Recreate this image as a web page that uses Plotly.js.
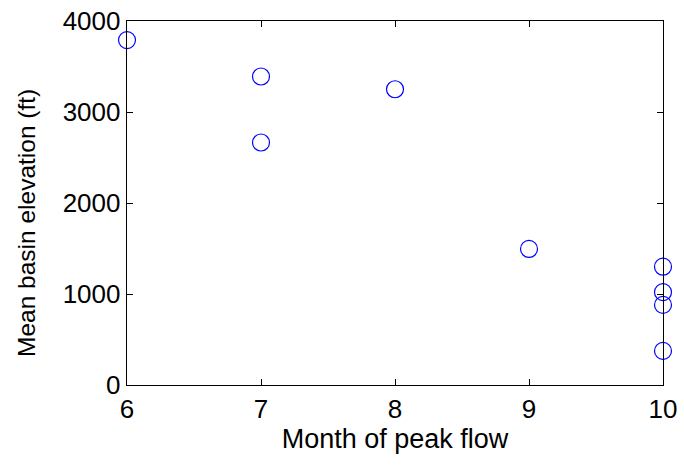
<!DOCTYPE html>
<html><head><meta charset="utf-8">
<script src="https://cdn.plot.ly/plotly-3.0.1.min.js"></script>
<style>html,body{margin:0;padding:0;background:#fff}</style>
</head><body>
<div id="chart" style="width:684px;height:466px"></div>
<script>
const months = [6, 7, 7, 8, 9, 10, 10, 10, 10];
const elevations = [3790, 3390, 2665, 3250, 1495, 1300, 1020, 880, 375];
const xTicks = [6, 7, 8, 9, 10];
const yTicks = [0, 1000, 2000, 3000, 4000];
const xLabel = 'Month of peak flow';
const yLabel = 'Mean basin elevation (ft)';

const trace = {
  x: months, y: elevations, type: 'scatter', mode: 'markers', cliponaxis: false,
  marker: {symbol: 'circle-open', size: 17, color: '#0000ff', line: {color: '#0000ff', width: 1.2}}
};
const tickFont = {family: 'Liberation Sans, Arial, sans-serif', size: 26, color: '#000'};
const xTitleFont = {family: 'Liberation Sans, Arial, sans-serif', size: 27, color: '#000'};
const yTitleFont = {family: 'Liberation Sans, Arial, sans-serif', size: 24.5, color: '#000'};
const axisBase = {
  showgrid: false, zeroline: false, showline: true, linecolor: '#000', linewidth: 1.3,
  mirror: 'ticks', ticks: 'inside', ticklen: 6, tickcolor: '#000', tickwidth: 1,
  tickfont: tickFont
};
const layout = {
  width: 684, height: 466,
  margin: {l: 127, r: 21, t: 21, b: 81},
  paper_bgcolor: '#fff', plot_bgcolor: '#fff',
  showlegend: false,
  font: tickFont,
  xaxis: Object.assign({}, axisBase, {range: [6, 10], tickvals: xTicks, ticktext: xTicks.map(String),
    title: {text: xLabel, font: xTitleFont, standoff: 6}}),
  yaxis: Object.assign({}, axisBase, {range: [0, 4000], tickvals: yTicks, ticktext: yTicks.map(String)}),
  annotations: [{
    text: yLabel, font: yTitleFont, textangle: -90, showarrow: false,
    xref: 'paper', yref: 'paper', x: 0, y: 0.5, xanchor: 'center', yanchor: 'middle',
    xshift: -101, yshift: -20
  }]
};
Plotly.newPlot('chart', [trace], layout, {displayModeBar: false, staticPlot: true});
</script>
</body></html>
